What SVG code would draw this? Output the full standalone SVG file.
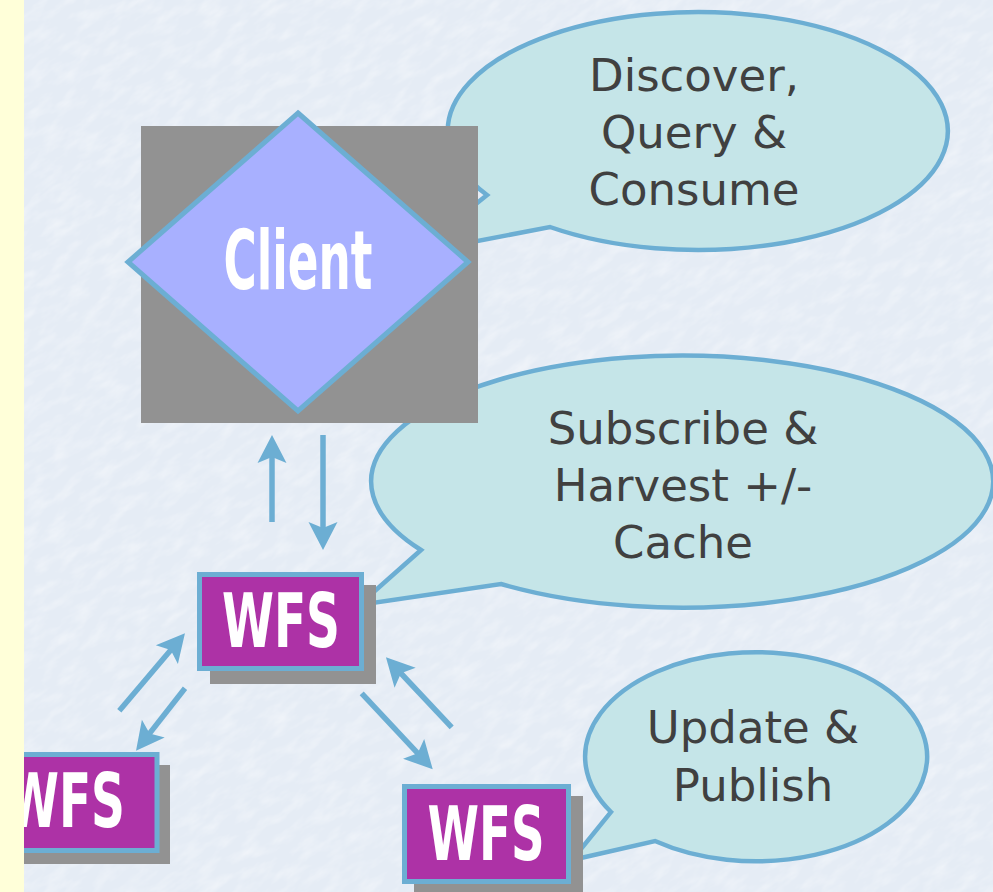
<svg xmlns="http://www.w3.org/2000/svg" width="993" height="892" viewBox="0 0 993 892">
  <style>
    .bubble { fill: #c5e5e8; stroke: #6caed3; stroke-width: 4.5; stroke-linejoin: miter; }
    .say { font-family: "DejaVu Sans", "Liberation Sans", sans-serif; font-size: 45px; fill: #404040; text-anchor: middle; }
    .shadow { fill: #929292; }
    .wfs { fill: #ad32a6; stroke: #6caed3; stroke-width: 5; }
    .hand { font-family: "Liberation Sans Narrow", "DejaVu Sans Condensed", "Liberation Sans", sans-serif; font-weight: bold; fill: #ffffff; text-anchor: middle; }
    .link { fill: none; stroke: #6caed3; stroke-width: 5.5; marker-end: url(#head); }
  </style>
  <defs>
    <marker id="head" markerUnits="userSpaceOnUse" markerWidth="32" markerHeight="32" viewBox="0 -16 30 32" refX="12" refY="0" orient="auto">
      <path d="M28,0 L0,-14.5 L6,0 L0,14.5 Z" fill="#6caed3"/>
    </marker>
    <filter id="paper" x="0" y="0" width="100%" height="100%">
      <feTurbulence type="fractalNoise" baseFrequency="0.04 0.1" numOctaves="4" seed="7"/>
      <feColorMatrix type="matrix" values="0 0 0 0 1  0 0 0 0 1  0 0 0 0 1  0.8 0 0 0 -0.34"/>
    </filter>
  </defs>

  <!-- paper background -->
  <rect x="0" y="0" width="993" height="892" fill="#e5ecf5"/>
  <g transform="rotate(-35 496 446)">
    <rect x="-400" y="-400" width="1800" height="1700" filter="url(#paper)"/>
  </g>

  <!-- speech bubbles -->
  <g id="bubble-consume">
    <path class="bubble" d="M487,195 A250,119 0 1 1 550,227 L415,253 Z"/>
    <text class="say" x="694" y="91">Discover,</text>
    <text class="say" x="694" y="148">Query &amp;</text>
    <text class="say" x="694" y="205">Consume</text>
  </g>
  <g id="bubble-harvest">
    <path class="bubble" d="M421,550 A311,126 0 1 1 501,584 L359,605 Z"/>
    <text class="say" x="683" y="444">Subscribe &amp;</text>
    <text class="say" x="683" y="501">Harvest +/-</text>
    <text class="say" x="683" y="558">Cache</text>
  </g>
  <g id="bubble-publish">
    <path class="bubble" d="M611,812 A171,104.5 0 1 1 655,841 L572,860 Z"/>
    <text class="say" x="753" y="743">Update &amp;</text>
    <text class="say" x="753" y="801">Publish</text>
  </g>

  <!-- client node -->
  <g id="client">
    <rect class="shadow" x="141" y="126" width="337" height="297"/>
    <path d="M298,113 L468,262 L298,411 L128,262 Z" fill="#a8b0ff" stroke="#6caed3" stroke-width="5" stroke-linejoin="miter"/>
    <text class="hand" x="298" y="289" font-size="82" textLength="149" lengthAdjust="spacingAndGlyphs">Client</text>
  </g>

  <!-- WFS nodes -->
  <g id="wfs-hub">
    <rect class="shadow" x="210" y="585" width="166" height="99"/>
    <rect class="wfs" x="199.5" y="574.5" width="162" height="94"/>
    <text class="hand" x="281" y="647" font-size="74" textLength="118" lengthAdjust="spacingAndGlyphs">WFS</text>
  </g>
  <g id="wfs-left">
    <rect class="shadow" x="0" y="765" width="170" height="99"/>
    <rect class="wfs" x="-10" y="754.5" width="167" height="96"/>
    <text class="hand" x="66" y="827" font-size="74" textLength="118" lengthAdjust="spacingAndGlyphs">WFS</text>
  </g>
  <g id="wfs-right">
    <rect class="shadow" x="414" y="796" width="169" height="100"/>
    <rect class="wfs" x="404.5" y="786.5" width="164" height="95"/>
    <text class="hand" x="486" y="860" font-size="74" textLength="117" lengthAdjust="spacingAndGlyphs">WFS</text>
  </g>

  <!-- connectors -->
  <g id="connectors">
    <line class="link" x1="272" y1="522" x2="272" y2="451"/>
    <line class="link" x1="323" y1="435" x2="323" y2="534"/>
    <line class="link" x1="119.3" y1="710.7" x2="174.6" y2="645.5"/>
    <line class="link" x1="185" y1="688.3" x2="145.9" y2="738.1"/>
    <line class="link" x1="361.7" y1="693.3" x2="421.8" y2="757.6"/>
    <line class="link" x1="451.7" y1="727.3" x2="396.9" y2="669"/>
  </g>

  <!-- margin strip -->
  <rect x="0" y="0" width="24" height="892" fill="#ffffd9"/>
</svg>
